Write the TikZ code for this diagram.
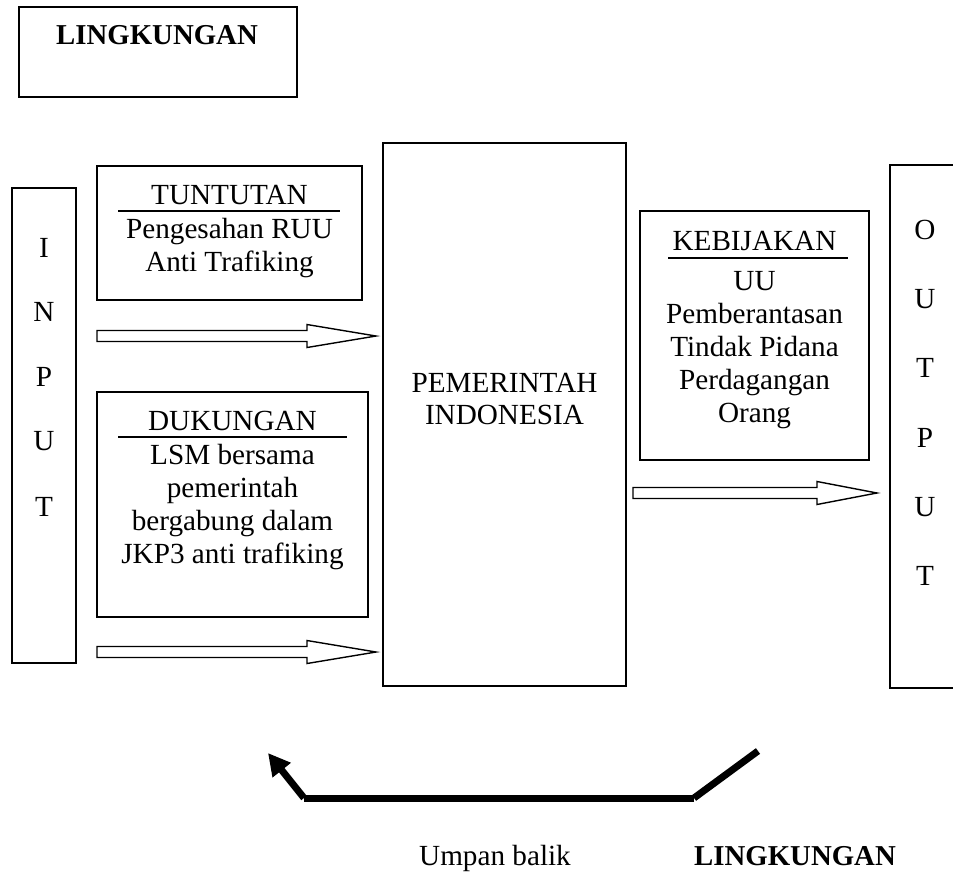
\documentclass[tikz,border=0pt]{standalone}
\usepackage{fontspec}
\setmainfont{Liberation Serif}
\usetikzlibrary{arrows.meta,calc}
\newcommand\blockarr[3]{%
  \draw[barrow] ($(#1)+(0,-5.5)$) -- ($(#2)+(-#3,-5.5)$) -- ($(#2)+(-#3,-11.5)$) -- (#2)
    -- ($(#2)+(-#3,11.5)$) -- ($(#2)+(-#3,5.5)$) -- ($(#1)+(0,5.5)$) -- cycle;}
\begin{document}
\begin{tikzpicture}[x=1pt,y=-1pt,
  box/.style={draw,line width=1.4pt,inner sep=0pt},
  txt/.style={anchor=base,inner sep=0pt,font=\fontsize{29.2}{33}\selectfont},
  btxt/.style={anchor=base,inner sep=0pt,font=\fontsize{28.8}{33}\selectfont\bfseries},
  rule/.style={line width=1.4pt},
  barrow/.style={draw,line width=1.4pt,fill=white,line join=miter},
  fb/.style={line width=7pt,line cap=butt}]
\useasboundingbox (0,0) rectangle (953,888);

% boxes
\node[box,minimum width=278pt,minimum height=90pt] (lingk) at (158,52) {};
\node[box,minimum width=64pt,minimum height=475pt] (input) at (44,425.5) {};
\node[box,minimum width=265pt,minimum height=134pt] (tunt) at (229.5,233) {};
\node[box,minimum width=271pt,minimum height=225pt] (duk) at (232.5,504.5) {};
\node[box,minimum width=243pt,minimum height=543pt] (pem) at (504.5,414.5) {};
\node[box,minimum width=229pt,minimum height=249pt] (kebij) at (754.5,335.5) {};
\node[box,minimum width=70pt,minimum height=523pt] (output) at (925,426.5) {};

% texts
\node[btxt] (lingkT) at (157,44.5) {LINGKUNGAN};

\node[txt] (tuntT) at (229.5,204) {TUNTUTAN};
\draw[rule] (118,211) -- (340,211);
\node[txt] (tunt1) at (229.5,238) {Pengesahan RUU};
\node[txt] (tunt2) at (229.5,271) {Anti Trafiking};

\node[txt] (dukT) at (232.5,430) {DUKUNGAN};
\draw[rule] (118,437) -- (347,437);
\node[txt] (duk1) at (232.5,464) {LSM bersama};
\node[txt] (duk2) at (232.5,497) {pemerintah};
\node[txt] (duk3) at (232.5,530) {bergabung dalam};
\node[txt] (duk4) at (232.5,563) {JKP3 anti trafiking};

\node[txt] (pem1) at (504.5,392) {PEMERINTAH};
\node[txt] (pem2) at (504.5,424) {INDONESIA};

\node[txt] (kebT) at (754.5,250) {KEBIJAKAN};
\draw[rule] (668,258) -- (848,258);
\node[txt] (keb1) at (754.5,290) {UU};
\node[txt] (keb2) at (754.5,323) {Pemberantasan};
\node[txt] (keb3) at (754.5,356) {Tindak Pidana};
\node[txt] (keb4) at (754.5,389) {Perdagangan};
\node[txt] (keb5) at (754.5,422) {Orang};

\node[txt] (in1) at (44,257.5) {I};
\node[txt] (in2) at (44,321.5) {N};
\node[txt] (in3) at (44,386.5) {P};
\node[txt] (in4) at (44,450.5) {U};
\node[txt] (in5) at (44,516.5) {T};

\node[txt] (out1) at (925,239.5) {O};
\node[txt] (out2) at (925,308.5) {U};
\node[txt] (out3) at (925,377.5) {T};
\node[txt] (out4) at (925,447.5) {P};
\node[txt] (out5) at (925,516.5) {U};
\node[txt] (out6) at (925,585.5) {T};

\node[txt] (umpan) at (495,865) {Umpan balik};
\node[btxt] (lingk2) at (795,865) {LINGKUNGAN};

% block arrows
\coordinate (a1s) at (97,336);  \coordinate (a1e) at (376,336);
\coordinate (a2s) at (97,652);  \coordinate (a2e) at (376,652);
\coordinate (a3s) at (633,493); \coordinate (a3e) at (877,493);
\blockarr{a1s}{a1e}{69}
\blockarr{a2s}{a2e}{69}
\blockarr{a3s}{a3e}{60}

% feedback
\coordinate (fbR) at (758,751);
\coordinate (fbB) at (694,798);
\coordinate (fbL) at (304,798);
\coordinate (fbT) at (268,753);
\draw[fb] (fbR) -- (fbB);
\draw[fb] (fbB) -- (fbL);
\draw[fb,-{Triangle[length=22pt,width=22pt]}] (fbL) -- (fbT);
\end{tikzpicture}
\end{document}
